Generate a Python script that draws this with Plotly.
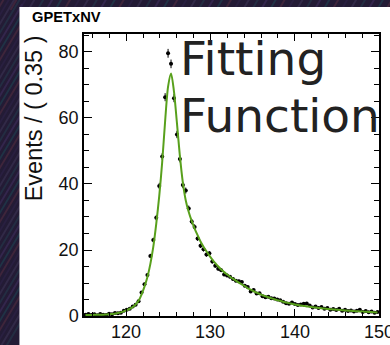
import numpy as np
import plotly.graph_objects as go

# Histogram binning: 100 bins of 0.35 between 115 and 150
bin_lo = 115.0
bin_width = 0.35
n_bins = 100
x_centers = bin_lo + bin_width * (np.arange(n_bins) + 0.5)

# Event counts per bin
events = [
    0.4, 0.6, 0.3, 0.5, 0.2, 0.6, 0.4, 0.3, 0.7, 0.5,
    0.9, 0.8, 1.0, 1.6, 1.9, 2.2, 2.9, 3.4, 4.5, 7.1,
    9.6, 12.4, 18.2, 23.0, 29.8, 39.4, 48.3, 66.3, 79.6, 76.4,
    66.0, 55.0, 47.6, 39.7, 38.0, 32.6, 28.6, 27.0, 23.5, 21.3,
    20.2, 18.6, 19.0, 16.5, 15.2, 14.3, 13.9, 12.6, 12.3, 11.9,
    11.2, 10.7, 10.5, 10.3, 9.2, 8.8, 7.4, 7.9, 6.8, 6.9,
    6.0, 5.7, 5.8, 5.4, 5.3, 5.0, 4.8, 4.3, 3.9, 3.7,
    4.1, 3.6, 3.3, 3.5, 3.7, 3.8, 3.2, 2.6, 2.9, 2.4,
    2.7, 2.2, 2.4, 1.9, 2.1, 1.8, 2.2, 1.6, 1.9, 1.5,
    1.7, 1.4, 1.6, 1.9, 1.2, 1.5, 1.1, 1.4, 1.0, 1.2,
]

# Per-bin statistical uncertainty
errors = [
    0.09, 0.12, 0.08, 0.11, 0.07, 0.12, 0.09, 0.08, 0.13, 0.11,
    0.14, 0.13, 0.15, 0.19, 0.21, 0.22, 0.26, 0.28, 0.32, 0.40,
    0.46, 0.53, 0.64, 0.72, 0.82, 0.94, 1.04, 1.22, 1.34, 1.31,
    1.22, 1.11, 1.03, 0.95, 0.92, 0.86, 0.80, 0.78, 0.73, 0.69,
    0.67, 0.65, 0.65, 0.61, 0.58, 0.57, 0.56, 0.53, 0.53, 0.52,
    0.50, 0.49, 0.49, 0.48, 0.45, 0.44, 0.41, 0.42, 0.39, 0.39,
    0.37, 0.36, 0.36, 0.35, 0.35, 0.34, 0.33, 0.31, 0.30, 0.29,
    0.30, 0.28, 0.27, 0.28, 0.29, 0.29, 0.27, 0.24, 0.26, 0.23,
    0.25, 0.22, 0.23, 0.21, 0.22, 0.20, 0.22, 0.19, 0.21, 0.18,
    0.20, 0.18, 0.19, 0.21, 0.16, 0.18, 0.16, 0.18, 0.15, 0.16,
]

# Fitted model evaluated at the bin centres
fit_curve = [
    0.30, 0.30, 0.30, 0.35, 0.35, 0.40, 0.40, 0.45, 0.50, 0.60,
    0.70, 0.90, 1.10, 1.40, 1.80, 2.20, 2.70, 3.50, 4.60, 6.50,
    8.90, 11.8, 15.8, 21.0, 28.0, 36.3, 46.6, 59.0, 69.5, 73.5,
    68.0, 58.5, 48.5, 40.5, 35.0, 31.5, 28.8, 26.5, 24.5, 22.6,
    21.0, 19.6, 18.3, 17.1, 16.0, 15.0, 14.1, 13.3, 12.6, 11.9,
    11.3, 10.7, 10.1, 9.60, 9.10, 8.40, 8.00, 7.50, 7.10, 6.70,
    6.30, 6.00, 5.70, 5.40, 5.10, 4.80, 4.60, 4.30, 4.10, 3.90,
    3.70, 3.50, 3.35, 3.20, 3.05, 2.90, 2.80, 2.65, 2.55, 2.45,
    2.35, 2.25, 2.15, 2.05, 1.97, 1.90, 1.82, 1.75, 1.68, 1.62,
    1.56, 1.50, 1.44, 1.38, 1.33, 1.28, 1.23, 1.18, 1.13, 1.08,
]

x_ticks = [120, 130, 140, 150]
y_ticks = [0, 20, 40, 60, 80]

# Figure geometry (pixels)
W, H = 390, 345
L, R, T, B = 84, 9, 34, 29
plot_w = W - L - R
plot_h = H - T - B


def px_to_paper_x(px):
    return (px - L) / plot_w


def px_to_paper_y(py):
    return (H - B - py) / plot_h


fig = go.Figure()

fig.add_trace(go.Scatter(
    x=x_centers, y=events, mode="markers",
    marker=dict(color="black", size=4),
    error_y=dict(type="data", array=errors, color="black", thickness=1, width=0),
    error_x=dict(type="constant", value=bin_width / 2, color="black", thickness=1, width=0),
    showlegend=False, hoverinfo="skip",
))

fig.add_trace(go.Scatter(
    x=x_centers, y=fit_curve, mode="lines",
    line=dict(color="#58a01c", width=2, shape="spline", smoothing=0.8),
    showlegend=False, hoverinfo="skip",
))

label_font = dict(family="Liberation Sans, Arial, sans-serif", size=18, color="#111")
axis_common = dict(
    showline=True, linecolor="black", linewidth=1.5, mirror="ticks",
    ticks="inside", tickcolor="black", tickwidth=1.2,
    showgrid=False, zeroline=False,
    tickfont=label_font,
)

# x labels are placed as annotations at their tick values (the last one
# sits on the frame edge and runs off the page)
fig.update_xaxes(
    range=[115, 150], tickvals=x_ticks, ticklen=7, showticklabels=False,
    minor=dict(ticks="inside", dtick=2, ticklen=4, tickcolor="black", tickwidth=1),
    **axis_common,
)
fig.update_yaxes(
    range=[0, 85.45], tickvals=y_ticks, ticklen=8,
    minor=dict(ticks="inside", dtick=5, ticklen=5, tickcolor="black", tickwidth=1),
    **axis_common,
)

shapes = []
# streaky dark backdrop around the canvas
streak_colours = ["#3b2b57", "#1f3c4c", "#4a2a3e", "#2c2245", "#38304f", "#243548"]
for i, py in enumerate(range(-10, H + 20, 9)):
    shapes.append(dict(type="line", xref="paper", yref="paper",
                       x0=px_to_paper_x(-2), y0=px_to_paper_y(py),
                       x1=px_to_paper_x(22), y1=px_to_paper_y(py - 40),
                       line=dict(color=streak_colours[i % len(streak_colours)], width=2),
                       opacity=0.7, layer="below"))
for i, px in enumerate(range(10, W + 10, 9)):
    shapes.append(dict(type="line", xref="paper", yref="paper",
                       x0=px_to_paper_x(px), y0=px_to_paper_y(10),
                       x1=px_to_paper_x(px + 7), y1=px_to_paper_y(-2),
                       line=dict(color=streak_colours[(i + 2) % len(streak_colours)], width=2),
                       opacity=0.7, layer="below"))
# white canvas behind the frame
shapes.append(dict(type="rect", xref="paper", yref="paper",
                   x0=px_to_paper_x(19), x1=px_to_paper_x(W + 5),
                   y0=px_to_paper_y(H + 5), y1=px_to_paper_y(7),
                   fillcolor="white", line=dict(width=0), layer="below"))

big_font = dict(family="DejaVu Sans, sans-serif", size=47, color="#222")
annotations = [
    dict(text="<b>GPETxNV</b>", xref="paper", yref="paper",
         x=px_to_paper_x(30), y=px_to_paper_y(17.5), xanchor="left", yanchor="middle",
         showarrow=False, font=dict(family="Liberation Sans, Arial, sans-serif", size=14.7, color="black")),
    dict(text="Events / ( 0.35 )", xref="paper", yref="paper",
         x=px_to_paper_x(34), y=px_to_paper_y(118), xanchor="center", yanchor="middle",
         textangle=-90, showarrow=False,
         font=dict(family="Liberation Sans, Arial, sans-serif", size=23.5, color="#111")),
    dict(text="Fitting", xref="paper", yref="paper",
         x=px_to_paper_x(179), y=px_to_paper_y(29), xanchor="left", yanchor="top",
         align="left", showarrow=False, font=big_font),
    dict(text="Function", xref="paper", yref="paper",
         x=px_to_paper_x(179), y=px_to_paper_y(86), xanchor="left", yanchor="top",
         align="left", showarrow=False, font=big_font),
]
for v in x_ticks:
    annotations.append(dict(text=str(v), xref="x", yref="paper",
                            x=v, y=px_to_paper_y(332), xanchor="center", yanchor="middle",
                            showarrow=False, font=label_font))

fig.update_layout(
    width=W, height=H,
    margin=dict(l=L, r=R, t=T, b=B),
    paper_bgcolor="#231b35", plot_bgcolor="white",
    shapes=shapes, annotations=annotations,
)

fig.write_html("out.html")
